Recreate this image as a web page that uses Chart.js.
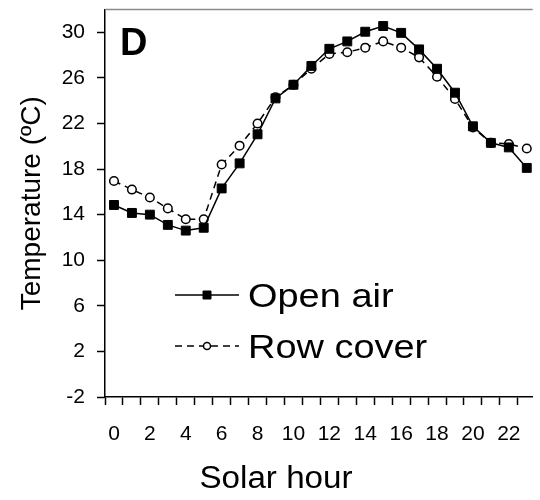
<!DOCTYPE html>
<html>
<head>
<meta charset="utf-8">
<script src="https://cdn.jsdelivr.net/npm/chart.js@4.4.1/dist/chart.umd.min.js"></script>
<style>
  html, body { margin: 0; padding: 0; background: #fff; }
</style>
</head>
<body>
<canvas id="tempChart" width="540" height="500"></canvas>
<script>
var hours = [0, 1, 2, 3, 4, 5, 6, 7, 8, 9, 10, 11, 12, 13, 14, 15, 16, 17, 18, 19, 20, 21, 22, 23];

var openAir = [14.85, 14.15, 14.0, 13.1, 12.6, 12.85, 16.3, 18.5, 21.05, 24.2, 25.4, 27.05,
  28.55, 29.2, 30.05, 30.55, 29.95, 28.5, 26.8, 24.7, 21.75, 20.3, 19.9, 18.1];

var rowCover = [16.95, 16.2, 15.5, 14.55, 13.6, 13.6, 18.4, 20.05, 22.0, 24.3, 25.4, 26.8,
  28.1, 28.25, 28.65, 29.2, 28.65, 27.8, 26.1, 24.15, 21.65, 20.3, 20.2, 19.8];

var yTickValues = [-2, 2, 6, 10, 14, 18, 22, 26, 30];
var xLabelValues = [0, 2, 4, 6, 8, 10, 12, 14, 16, 18, 20, 22];

var FONT = '"Liberation Sans", Arial, sans-serif';

function pairs(values) {
  return hours.map(function(h, i) { return { x: h, y: values[i] }; });
}

// tick marks sit between the hours, labels on the even hours
var xTickValues = [];
for (var i = 0; i < hours.length; i++) {
  xTickValues.push(hours[i] - 0.5);
  xTickValues.push(hours[i]);
}

// the original figure is a little wider than tall, so text is stretched sideways
function wideText(ctx, text, x, y, sx) {
  ctx.save();
  ctx.translate(x, y);
  ctx.scale(sx, 1);
  ctx.fillText(text, 0, 0);
  ctx.restore();
}

var decorations = {
  id: 'decorations',
  afterDraw: function(chart) {
    var ctx = chart.ctx;
    var area = chart.chartArea;
    ctx.save();

    // grey frame line along the top
    ctx.strokeStyle = '#8a8a8a';
    ctx.lineWidth = 1.5;
    ctx.beginPath();
    ctx.moveTo(area.left, area.top);
    ctx.lineTo(area.right, area.top);
    ctx.stroke();

    // panel letter
    ctx.fillStyle = '#000';
    ctx.textBaseline = 'alphabetic';
    ctx.textAlign = 'left';
    ctx.font = 'bold 38px ' + FONT;
    ctx.fillText('D', 120, 55);

    // legend inside the plot
    var rows = [
      { ds: chart.data.datasets[0], y: 295 },
      { ds: chart.data.datasets[1], y: 346 }
    ];
    rows.forEach(function(r) {
      ctx.strokeStyle = '#000';
      ctx.lineWidth = 1.5;
      ctx.setLineDash(r.ds.borderDash || []);
      ctx.beginPath();
      ctx.moveTo(175, r.y);
      ctx.lineTo(239, r.y);
      ctx.stroke();
      ctx.setLineDash([]);
      ctx.fillStyle = r.ds.pointBackgroundColor;
      ctx.strokeStyle = '#000';
      ctx.lineWidth = r.ds.pointBorderWidth;
      ctx.beginPath();
      if (r.ds.pointStyle === 'rect') {
        ctx.rect(203, r.y - 4, 8, 8);
      } else {
        ctx.arc(207, r.y, 3.5, 0, Math.PI * 2);
      }
      ctx.fill();
      ctx.stroke();
      ctx.fillStyle = '#000';
      ctx.font = '33px ' + FONT;
      wideText(ctx, r.ds.label, 248, r.y + 12, 1.15);
    });

    // x axis title
    ctx.textAlign = 'center';
    ctx.font = '31px ' + FONT;
    wideText(ctx, 'Solar hour', 276, 488, 1.07);

    ctx.restore();
  }
};

var ctx = document.getElementById('tempChart').getContext('2d');

var myChart = new Chart(ctx, {
  type: 'line',
  data: {
    datasets: [
      {
        label: 'Open air',
        data: pairs(openAir),
        borderColor: '#000',
        borderWidth: 1.5,
        pointStyle: 'rect',
        pointRadius: 6.3,
        pointBackgroundColor: '#000',
        pointBorderColor: '#000',
        pointBorderWidth: 1,
        tension: 0
      },
      {
        label: 'Row cover',
        data: pairs(rowCover),
        borderColor: '#000',
        borderWidth: 1.5,
        borderDash: [7, 5],
        pointStyle: 'circle',
        pointRadius: 4.3,
        pointBackgroundColor: '#fff',
        pointBorderColor: '#000',
        pointBorderWidth: 1.5,
        tension: 0
      }
    ]
  },
  options: {
    responsive: false,
    animation: false,
    events: [],
    layout: { padding: { top: 9.5, left: 0, right: 0, bottom: 0 } },
    plugins: {
      legend: { display: false },
      tooltip: { enabled: false }
    },
    scales: {
      x: {
        type: 'linear',
        min: -0.5,
        max: 23.33,
        afterBuildTicks: function(scale) {
          scale.ticks = xTickValues.map(function(v) { return { value: v }; });
        },
        afterFit: function(scale) {
          scale.height = 103;
          scale.paddingLeft = 0;
          scale.paddingRight = 0;
        },
        border: { display: true, color: '#000', width: 1.5 },
        grid: {
          drawOnChartArea: false,
          tickLength: 8,
          tickWidth: 1.5,
          color: function(c) {
            return c.tick && Number.isInteger(c.tick.value) ? 'rgba(0,0,0,0)' : '#000';
          }
        },
        ticks: {
          autoSkip: false,
          maxRotation: 0,
          padding: 17,
          color: '#000',
          font: { family: FONT, size: 21 },
          callback: function(v) {
            return xLabelValues.indexOf(v) >= 0 ? String(v) : '';
          }
        }
      },
      y: {
        min: -2,
        max: 32,
        afterBuildTicks: function(scale) {
          scale.ticks = yTickValues.map(function(v) { return { value: v }; });
        },
        afterFit: function(scale) {
          scale.width = 105;
          scale.paddingTop = 0;
          scale.paddingBottom = 0;
        },
        border: { display: true, color: '#000', width: 1.5 },
        grid: {
          drawOnChartArea: false,
          tickLength: 8,
          tickWidth: 1.5,
          color: '#000'
        },
        ticks: {
          padding: 12,
          color: '#000',
          font: { family: FONT, size: 21 }
        },
        title: {
          display: true,
          text: 'Temperature (ºC)',
          color: '#000',
          font: { family: FONT, size: 28 },
          padding: { top: 15, bottom: 0 }
        }
      }
    }
  },
  plugins: [decorations]
});
</script>
</body>
</html>
